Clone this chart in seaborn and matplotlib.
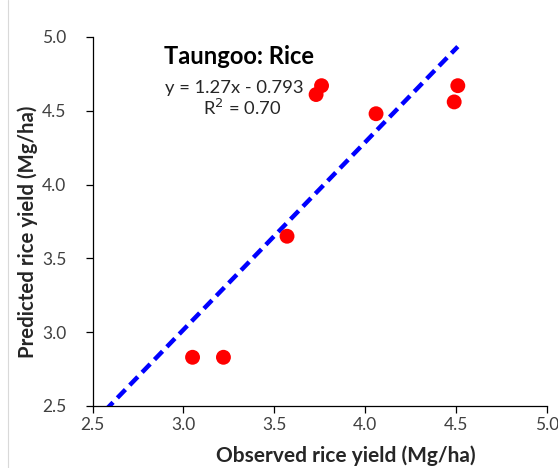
import matplotlib
matplotlib.use("Agg")
import matplotlib.pyplot as plt
import seaborn as sns
import numpy as np
import pandas as pd
from matplotlib.lines import Line2D

# Observed vs predicted rice yield, Taungoo
observed = [3.05, 3.22, 3.57, 3.73, 3.76, 4.06, 4.49, 4.51]
predicted = [2.83, 2.83, 3.65, 4.61, 4.67, 4.48, 4.56, 4.67]

# Fitted trendline y = slope * x + intercept
slope = 1.27
intercept = -0.793
r_squared = 0.70

ticks = [2.5, 3.0, 3.5, 4.0, 4.5, 5.0]
tick_labels = ["2.5", "3.0", "3.5", "4.0", "4.5", "5.0"]

W, H = 558, 468

sns.set_theme(style="white")
plt.rcParams["font.family"] = ["Lato", "DejaVu Sans"]

fig = plt.figure(figsize=(W / 100, H / 100), dpi=100)
ax = fig.add_axes([0.166, 0.1325, 0.814, 0.7885])

df = pd.DataFrame({"obs": observed, "pred": predicted})

# trendline extended back to the axis floor, clipped by the axes
x_line = np.array([ticks[0], max(observed)])
line_df = pd.DataFrame({"x": x_line, "y": slope * x_line + intercept})
sns.lineplot(data=line_df, x="x", y="y", ax=ax, color="#0000ff", lw=3.2,
             dashes=False, zorder=2)
ax.lines[-1].set_dashes([2.6, 1.4])
ax.lines[-1].set_dash_capstyle("butt")

sns.scatterplot(data=df, x="obs", y="pred", ax=ax, color="#ff0000", s=115,
                edgecolor="none", zorder=3)

ax.set_xlim(2.5, 5.0)
ax.set_ylim(2.5, 5.0)
ax.set_xticks(ticks)
ax.set_xticklabels(tick_labels)
ax.set_yticks(ticks)
ax.set_yticklabels(tick_labels)

for side in ["top", "right"]:
    ax.spines[side].set_visible(False)
for side in ["left", "bottom"]:
    ax.spines[side].set_color("black")
    ax.spines[side].set_linewidth(0.9)

ax.tick_params(axis="both", direction="out", length=5, width=0.9,
               color="black", labelsize=12.5, labelcolor="#404040",
               bottom=True, left=True)
ax.tick_params(axis="x", pad=3)
ax.tick_params(axis="y", pad=14)

renderer = fig.canvas.get_renderer()


def fit_size(txt, span, vertical=False):
    """Scale a text's font so its rendered extent equals span pixels."""
    for _ in range(3):
        bb = txt.get_window_extent(renderer)
        cur = bb.height if vertical else bb.width
        txt.set_fontsize(txt.get_fontsize() * span / cur)


def fig_xy(px, py):
    return px / W, 1 - py / H


ax.set_xlabel("Observed rice yield (Mg/ha)", fontsize=14, fontweight="bold",
              color="#262626", va="center", ha="center")
ax.set_ylabel("Predicted rice yield (Mg/ha)", fontsize=14, fontweight="bold",
              color="#262626", va="center", ha="center")
fit_size(ax.xaxis.label, 258)
fit_size(ax.yaxis.label, 253, vertical=True)
ax.xaxis.set_label_coords(*fig_xy(346, 456), transform=fig.transFigure)
ax.yaxis.set_label_coords(*fig_xy(28, 231.5), transform=fig.transFigure)

title = fig.text(*fig_xy(239, 57), "Taungoo: Rice", fontsize=17,
                 fontweight="bold", ha="center", va="center", color="black")
fit_size(title, 150)

eq = fig.text(*fig_xy(234, 88), f"y = {slope:.2f}x - {abs(intercept):.3f}",
              fontsize=13, ha="center", va="center", color="#262626")
fit_size(eq, 139)

r2 = fig.text(*fig_xy(242.5, 108), f"R$^2$ = {r_squared:.2f}",
              fontsize=eq.get_fontsize(), ha="center", va="center",
              color="#262626")

# thin frame edge on the left of the figure
fig.add_artist(Line2D([7.5 / W, 7.5 / W], [0, 1], transform=fig.transFigure,
                      color="#d9d9d9", lw=0.8))

fig.savefig("out.png", dpi=100)
